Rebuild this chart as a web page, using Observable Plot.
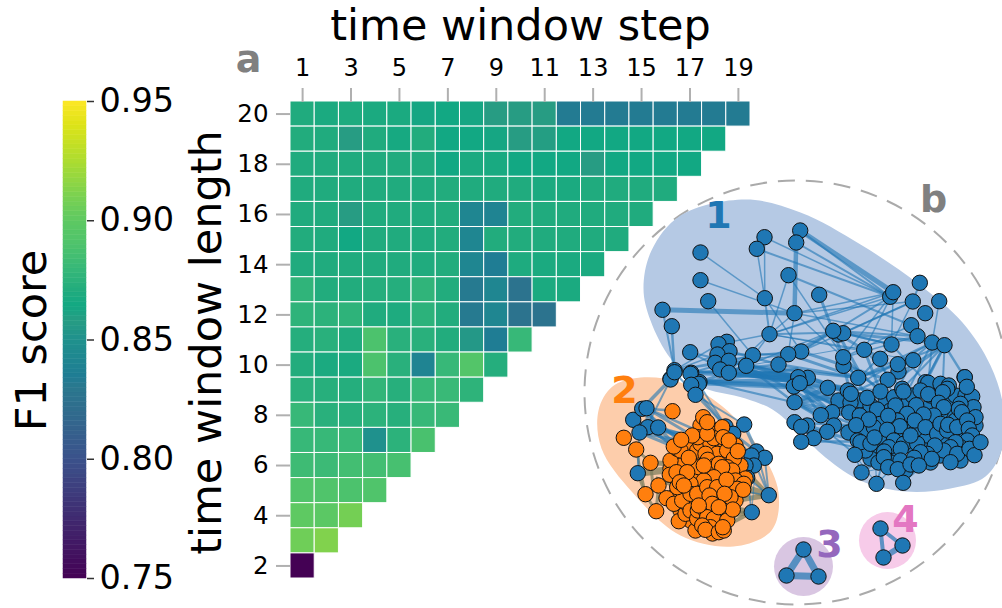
<!DOCTYPE html>
<html><head><meta charset="utf-8">
<script src="https://cdn.jsdelivr.net/npm/d3@7"></script>
<script src="https://cdn.jsdelivr.net/npm/@observablehq/plot@0.6"></script>
<style>
html,body{margin:0;padding:0;background:#fff}
#c{position:relative;width:1002px;height:608px;overflow:hidden}
#c svg{position:absolute;left:0;top:0;background:transparent}
</style></head><body><div id="c"></div>
<script>
const steps=[1,2,3,4,5,6,7,8,9,10,11,12,13,14,15,16,17,18,19];
const lengths=[20,19,18,17,16,15,14,13,12,11,10,9,8,7,6,5,4,3,2];
const stepTicks=[1,3,5,7,9,11,13,15,17,19];
const lengthTicks=[2,4,6,8,10,12,14,16,18,20];
const colorTicks=[0.75,0.8,0.85,0.9,0.95];
const f1Rows=[
[.870,.868,.869,.868,.868,.863,.864,.863,.858,.858,.858,.833,.833,.833,.833,.833,.833,.833,.833],
[.871,.870,.858,.870,.866,.871,.864,.864,.863,.858,.859,.864,.864,.864,.864,.864,.864,.864],
[.870,.870,.870,.870,.870,.870,.864,.868,.867,.864,.864,.864,.858,.864,.864,.864,.864],
[.870,.870,.870,.870,.870,.870,.871,.870,.870,.870,.868,.868,.870,.870,.870,.870],
[.870,.870,.858,.870,.870,.870,.871,.842,.840,.871,.870,.870,.870,.870,.870],
[.871,.870,.864,.870,.870,.870,.871,.842,.871,.871,.870,.870,.870,.870],
[.870,.870,.870,.870,.870,.870,.871,.842,.835,.869,.868,.868,.868],
[.877,.871,.871,.872,.872,.877,.871,.832,.842,.826,.868,.868],
[.876,.875,.876,.870,.869,.875,.871,.832,.842,.826,.826],
[.872,.874,.870,.889,.874,.874,.871,.855,.835,.880],
[.871,.868,.868,.889,.874,.840,.880,.893,.872],
[.874,.873,.872,.878,.873,.880,.881,.876],
[.880,.874,.873,.875,.873,.880,.881],
[.880,.880,.881,.850,.875,.888],
[.883,.882,.885,.885,.887],
[.892,.891,.889,.891],
[.900,.898,.908],
[.906,.912],
[.750]];
const cells=f1Rows.flatMap((r,i)=>r.map((v,j)=>({step:steps[j],length:lengths[i],f1:v})));

const blobBackNodes=[[860,400],[870,405],[885,402],[905,400],[912,395],[930,405],[950,400],[955,395],[965,395],[880,415],[905,425],[915,432],[925,440],[935,425],[950,415],[965,430],[975,425],[958,435],[945,440],[930,462],[940,455],[905,470],[895,455],[875,448],[865,432],[848,432],[838,400],[880,436],[895,433],[915,410],[930,395],[870,458],[960,460],[865,450],[890,410],[925,450],[910,445],[955,420],[940,412],[890,462],[878,462],[850,402]];
const blueNodes=[[799.7,230],[795.7,242],[764,236.7],[756.3,248.3],[700,252],[700,279.7],[788,274.7],[818.7,294.3],[764.3,297.7],[707.7,300.7],[662,309.3],[671.3,325.7],[794,312.7],[769,333.7],[919.3,282.3],[889.7,296.3],[892.7,291.7],[912.3,301],[938.7,300.7],[924.7,312.7],[910.7,324.7],[917,335.7],[931.7,342],[944,344.7],[838,334],[842.7,332.7],[832.7,330.3],[891,344],[863.7,349.3],[879.7,358.3],[912.7,359.7],[898,371],[897.3,363.7],[843,365.3],[842.7,356.7],[807.3,377.3],[797.7,376.7],[800.7,351],[787.7,353.7],[778,364],[752.3,354.7],[745.7,365.3],[689.7,351.7],[670,378.3],[674,369.7],[690.7,372.3],[726.3,341.3],[718,343.7],[729,350.7],[717,354],[714.7,362.3],[728.3,360.3],[719.7,369],[728.3,372.3],[857.7,377.3],[887.3,379.3],[964,376.7],[699,381.7],
[793.3,386],[799.3,382.7],[827.3,387.3],[794,401.7],[847.3,390],[850.3,393.3],[866.7,397.3],[880,391],[893.7,396.7],[901.7,388.3],[903,391],[895,405],[876.7,409],[925,381.7],[927.7,382.3],[940,383.3],[948.3,385],[946.7,388.3],[920,390],[927.7,393.7],[942.3,391.7],[915.7,404.7],[938.3,402.3],[971.7,396],[964.3,376.7],[966.3,386.3],[973,406.7],[960,403.3],[958.3,408.3],[961.3,411.7],[975,416.7],[943.3,406.7],[933.3,415],[923,414],[906.7,413.3],[914.3,420],[896.7,420],[880,423.3],[873.3,426.7],[848.7,412],[859.3,415],[868.3,419],[855.7,424.7],[887.7,415.3],[899.3,425.7],[886.7,429.3],[806.7,425],[794,421.7],[800.7,426.3],[831.7,411.7],[820.3,414.7],[833.3,425],[826.7,431.3],[813.3,437.7],[800.7,441.3],[857.3,440],[860,441.7],[870,443.3],[874,437],[893.3,440],[888.3,446.7],[903.3,443.3],[916.7,443.3],[910,435],[925,426.7],[936.7,433.3],[940,423.3],[946.7,430],[947.7,424.3],[956.7,426.7],[966.7,420],[968.3,428.3],[971.7,435],[966.7,440],[960,446.7],[955,441.7],[950,446.7],[943.3,450],[934.3,445],[926.7,453.3],[920,451.7],[900.3,448.3],[883.7,451],[883.3,456.7],[854.3,454.3],[900,460],[913.7,457.3],[931.3,458.3],[956.7,453.3],[950,461.7],[969,448.3],[974,454.7],[980,441.7],[887.7,466.7],[897.3,468.7],[910,464],[918.3,465],[861,472],[876,483.3],[902.7,482.3],
[670,379],[674,371.7],[690,373.3],[698.3,383.3],[690.7,384.3],[695,394.3],[632.7,419.3],[641.7,408.3],[646,407.7],[647.3,426.7],[657.7,427],[639,432],[637.3,472.7],[743.7,424],[725,426],[732.7,433.3],[756,451],[764.3,457.3],[751,455],[753.3,465],[745,465],[746.7,477.3],[768.3,494.7],[751.3,511.7]];
const triad3=[[803,549],[786,575],[818,576]];
const triad4=[[880,528],[902,545],[883,557]];
const orangeBackNodes=[[690,440],[700,425],[715,430],[735,445],[740,465],[695,475],[710,470],[720,475],[700,490],[715,495],[725,500],[685,495],[675,495],[680,465],[670,468],[690,520],[725,510],[735,500],[745,478],[712,510],[705,500],[720,520],[695,490],[680,510],[715,445],[725,458],[700,458],[690,448],[695,530],[712,533]];
const orangeNodes=[[672,410.7],[623.3,437.3],[635.7,449],[650,462.3],[645,493.7],[655.7,510.7],[666,497.7],[658,485],[678.3,520.7],[673.3,503.3],[685,513.3],[686.7,503.3],[681.7,500],[690,510],[696.7,518.3],[670,460],[676.7,448.3],[680,450],[693.3,460],[696.7,450],[700,443.3],[710,443.3],[716.7,453.3],[705,453.3],[726.7,450],[733.3,458.3],[726.7,466.7],[731.7,470],[698.3,466.7],[707.3,459.3],[715,465],[718.3,463.3],[721.7,466.7],[713.3,476.7],[703.3,480],[690,483.3],[690,493.3],[696.7,493.3],[706.7,486.7],[716.7,486.7],[735,480],[743.3,483.3],[736.7,488.3],[742.7,489.3],[730,496.7],[709,495],[697.3,510],[705,510],[711.7,503.3],[706.7,516.7],[713.3,518.3],[710,526.7],[701.7,525],[705,529.3],[718.3,531.7],[723.3,530],[726.7,520],[732.3,509],[702.7,416.7],[721.7,426.7],[697.3,436.7],[691.7,435],[713.3,437.7],[722.7,436.7],[728.3,440],[706.7,433.3],[706.7,421.7],[673.3,446],[680.7,439.3],[737.3,450.7],[688.3,457.3],[703.3,465],[669.3,474.3],[676,471.7],[686.7,471.7],[676.7,486.7],[679.3,481.7],[683.3,485],[726,479.3],[724,493.3],[698.3,505],[718.3,506.7],[722.3,526.7]];

const blueLinks=[
[799.7,230,892.7,291.7,5],[795.7,242,889.7,296.3,2],[795.7,242,794,312.7,4.5],[799.7,230,889.7,296.3,2],[764,236.7,889.7,296.3,1.5],[756.3,248.3,889.7,296.3,2],[756.3,248.3,764.3,297.7,1.5],[764,236.7,764.3,297.7,1.5],[700,252,764.3,297.7,1.5],[700,279.7,794,312.7,1.5],[707.7,300.7,752.3,354.7,1.5],[662,309.3,794,312.7,5],[662,309.3,674,369.7,2],[671.3,325.7,674,369.7,2.5],[788,274.7,769,333.7,1.5],[788,274.7,910.7,324.7,2],[788,274.7,843,357,1.5],[818.7,294.3,842.7,356.7,3],[764.3,297.7,769,333.7,2],[764.3,297.7,800.7,351,1.5],[794,312.7,769,333.7,1.5],[794,312.7,892.7,291.7,1.5],[794,312.7,917,335.7,1.5],[794,312.7,787.7,353.7,1.5],[794,312.7,842.7,356.7,1.5],[794,312.7,912.3,301,1.5],[769,333.7,892.7,291.7,1.5],[769,333.7,836,332,2],[769,333.7,718,343.7,1.5],[769,333.7,745.7,365.3,1.5],[769,333.7,863.7,349.3,1.5],[769,333.7,728,372,1.5],[769,333.7,912.7,359.7,1],[919.3,282.3,912.3,301,2],[938.7,300.7,931.7,342,1.5],[892.7,291.7,863.7,349.3,1.5],[892.7,291.7,891,344,1.5],[892.7,291.7,842.7,356.7,1.5],[912.3,301,891,344,1.5],[912.3,301,842.7,332.7,2],[912.3,301,800.7,351,1.5],[889.7,296.3,800.7,351,2],[889.7,296.3,769,333.7,1.5],[832.7,330.3,917,335.7,2],[842.7,332.7,931.7,342,3],[832.7,330.3,891,344,2],[842.7,332.7,891,344,2],[838,334,879.7,358.3,3],[838,334,863.7,380,3],[832.7,330.3,787.7,354,2],[832.7,330.3,778,364,2],[832.7,330.3,745.7,365.3,1.5],[917,335.7,843,357,1.5],[917,335.7,745.7,365.3,1],[910.7,324.7,843,357,1.5],[944,344.7,964,376.7,2.5],[944,344.7,857.7,377.3,2],[944,344.7,880,391,2],[944,344.7,901.7,388.3,2],[944,344.7,925,381.7,3],[944,344.7,920,390,2],[944,344.7,887,379,2],[931.7,342,857.7,377.3,2],[931.7,342,887.3,379.3,2],[931.7,342,927.7,382.3,2],[931.7,342,847,390,2],[931.7,342,905,395,2],[944,344.7,942,391,2],[891,344,847,390,2],[891,344,925,381,2],[863.7,349.3,901.7,388,2],[863.7,349.3,880,391,3],[842.7,356.7,880,391,3],[842.7,356.7,866.7,397,3],[843,365.3,850,393,3],[843,365.3,893,396,2],[912.7,359.7,857.7,377,2],[912.7,359.7,893,396,2],[898,371,850,393,2],[879.7,358.3,893,397,2],
[674,369.7,797.7,376.7,3],[690.7,372.3,800,378,4],[699,381.7,800,379,4],[699,381.7,798,368,3],[728.3,372.3,807,377,7],[719.7,369,798,376,5],[745,372,800,380,7],[728.3,360.3,800,378,4],[729,350.7,778,364,2.5],[717,354,787,354,2],[745.7,365.3,807,377,3.5],[745.7,365.3,857,377,3],[752.3,354.7,800.7,351,2],[778,364,857.7,377.3,3],[787.7,353.7,857.7,377.3,3],[800.7,351,887.3,379.3,3],[728,372,847,390,3],[730,372,880,391,3],[699,381.7,827,387,3.5],[699,381.7,794,386,6],[807,377,866.7,397.3,3],[807,377,847,390,4],[827,387,887.7,400,3],[745,365,794,402,2.5],[745,365,830,410,2.5],[700,380,794,402,2],[689.7,351.7,745.7,365.3,2],[689.7,351.7,728,372,2],[674,369.7,718,344,1.5],[674,369.7,717,354,1.5],[674,369.7,752,355,1.5],[674,369.7,787.7,353.7,1.5],[690.7,372.3,752.3,354.7,2],[690,373,778,364,2.5],[699,381.7,745.7,365.3,3],
[799,383,850,412,6],[794,402,850,393,5],[827,387,794,402,5],[794,386,860,415,3],[794,386,850,412,3],[794,401.7,856,425,2.5],[794,401.7,849,412,3],[794,422,855,425,2.5],[794,422,849,412,3],[800,426,860,441,3],[801,441,860,441,2.5],[801,441,856,425,2.5],[813,438,868,419,2.5],[813,438,880,452,2],[827,431,855,454,2],[827,387,850,412,3],[832,412,880,423,3],[833,425,887,430,2.5],[794,402,820,415,3],[794,402,833,425,3],[806,425,827,431,3],[799,383,831,412,3],[799,383,820,415,3],
[861,472,874,437,1.5],[861,472,884,451,1.5],[861,472,900,448,1.5],[861,472,854,454,1.5],[876,483.3,874,437,1.2],[876,483.3,884,451,1.2],[876,483.3,888,447,1.2],[876,483.3,900,460,1.2],[902.7,482.3,900,448,1.2],[902.7,482.3,925,460,1.2],[902.7,482.3,940,450,1.2],[902.7,482.3,885,455,1.2],[854,454,876,483,1.2],[861,472,890,466,1.2],
[670,379,641.7,408.3,3.5],[670,379,647,425,2],[674,372,695,394,2],[690.7,384.3,737,440,3],[695,394.3,743.7,424,2],[695,394.3,725,426,2],[698,383,730,433,2],[641.7,408.3,690,450,3],[641.7,408.3,676,447,3.5],[646,407.7,700,440,3],[646,407.7,710,436,2.5],[632.7,419.3,690,440,3],[632.7,419.3,676,447,3],[647,427,697,436,3],[647,427,676,447,3],[658,427,690,436,3],[658,427,700,445,3],[639,432,680,440,3],[639,432,673,446,3],[639,432,637.3,472.7,2.5],[641.7,408.3,632.7,419.3,3],[646,408,658,427,3],[646,408,647,427,3],[632.7,419.3,639,432,3],[658,427,639,432,3],[641,408,672,410,2.5],[743.7,424,756,451,3.5],[725,426,751,455,2.5],[732.7,433.3,756,451,3],[756,451,768.3,494.7,2],[764.3,457.3,768.3,494.7,2],[751,455,768.3,494.7,2],[746.7,477.3,768.3,494.7,2],[746.7,477.3,751.3,511.7,2],[756,451,751.3,511.7,1],[745,465,730,500,1.5],[753,465,738,505,1.5],[768,495,740,490,1.5]];
const orangeLinks=[
[650,462,637,473,3],[650,462,653,490,3],[635.7,449,650,462,3],[635.7,449,645,494,2.5],[623.3,437,635.7,449,2.5],[645,494,655.7,511,3],[658,485,655.7,511,3],[637,473,645,494,2.5],[645,494,668,480,3],
[637.3,472.7,680,468,7],[650,462,690,465,5],[655,478,690,490,5],[670,485,730,470,7],
[730,483,768.3,494.7,7],[735,500,768.3,494.7,5],[730,508,751.3,511.7,6],[728,515,751.3,511.7,5],[720,528,751.3,511.7,4],[745,470,768.3,494.7,4],[735,455,753,465,4],[735,478,756,451,3],[690,520,735,515,6],[670,505,720,528,5],[690,525,730,522,5]];
const triadLinks=[
[803,549,786,575,7],[803,549,818,576,7],[786,575,818,576,7],
[880,528,902,545,4],[880,528,883,557,4],[883,557,902,545,6]];

const blueHull=[[745,199],[800,212],[860,244],[920,285],[962,322],[990,365],[1003,408],[1001,450],[985,476],[950,488],[905,491],[862,481],[825,457],[797,430],[772,409],[745,398],[698,385],[670,358],[650,320],[643,288],[651,250],[680,215]];
const orangeHull=[[640,377],[680,382],[722,406],[758,447],[778,492],[771,530],[733,546],[680,535],[632,492],[601,448],[598,410],[612,386]];
const bubble3=[[803,566]];
const bubble4=[[887,540]];
const ring=[[796,392]];
const colorStops=[.75,.80,.83,.835,.85,.858,.864,.87,.88,.89,.90,.91,.925,.94,.95];
const colorRange=["#440154","#3b528b","#2a788e","#1f7d94","#1f918d","#279c83","#12a883","#20ab7e","#37b878","#4ec36c","#5ec962","#7ad151","#addc30","#dde318","#fde725"];
const texts=[
{x:520,y:26,t:"time window step",s:43,c:"#000",w:"normal",r:0},
{x:207,y:342,t:"time window length",s:43,c:"#000",w:"normal",r:-90},
{x:32,y:340,t:"F1 score",s:43,c:"#000",w:"normal",r:-90},
{x:248,y:59,t:"a",s:38,c:"#808080",w:"bold",r:0},
{x:933,y:199,t:"b",s:38,c:"#808080",w:"bold",r:0},
{x:718,y:215,t:"1",s:38,c:"#1f77b4",w:"bold",r:0},
{x:624,y:390,t:"2",s:38,c:"#ff7f0e",w:"bold",r:0},
{x:829,y:544,t:"3",s:38,c:"#9467bd",w:"bold",r:0},
{x:905,y:519,t:"4",s:38,c:"#e377c2",w:"bold",r:0}];

const font={fontFamily:"'DejaVu Sans',sans-serif",background:"transparent"};
const colorScale={type:"linear",domain:colorStops,range:colorRange};
const linkOpts=(c,o)=>({x1:d=>d[0],y1:d=>d[1],x2:d=>d[2],y2:d=>d[3],strokeWidth:d=>d[4],stroke:c,strokeOpacity:o});
const dotOpts=(c)=>({x:d=>d[0],y:d=>d[1],r:7.7,fill:c,stroke:"#111",strokeWidth:1});
const areaOpts=(c,r)=>({x:d=>d[0],y:d=>d[1],r,fill:c});

const network=Plot.plot({width:1002,height:608,margin:0,style:font,
 x:{domain:[0,1002],range:[0,1002],axis:null},
 y:{domain:[0,608],range:[0,608],axis:null},
 marks:[
  Plot.dot(ring,{x:d=>d[0],y:d=>d[1],r:212,fill:"none",stroke:"#aaaaaa",strokeWidth:2,strokeDasharray:"17,11"}),
  Plot.line(blueHull,{x:d=>d[0],y:d=>d[1],fill:"#b5c9e4",stroke:"none",curve:"catmull-rom-closed"}),
  Plot.line(orangeHull,{x:d=>d[0],y:d=>d[1],fill:"#fdcdab",stroke:"none",curve:"catmull-rom-closed"}),
  Plot.dot(bubble3,areaOpts("#d9c6e2",29.5)),
  Plot.dot(bubble4,areaOpts("#f7cbe9",28.5)),
  Plot.link(orangeLinks,linkOpts("#7f7f5f",0.75)),
  Plot.link(blueLinks,linkOpts("#1f77b4",0.6)),
  Plot.link(triadLinks,linkOpts("#1f77b4",0.7)),
  Plot.dot(blobBackNodes,dotOpts("#1f77b4")),
  Plot.dot(blueNodes,dotOpts("#1f77b4")),
  Plot.dot(triad3,dotOpts("#1f77b4")),
  Plot.dot(triad4,dotOpts("#1f77b4")),
  Plot.dot(orangeBackNodes,dotOpts("#ff7f0e")),
  Plot.dot(orangeNodes,dotOpts("#ff7f0e")),
  ...texts.map(d=>Plot.text([d],{x:"x",y:"y",text:"t",fontSize:d.s,fill:"c",fontWeight:d.w,rotate:d.r}))
 ]});

const heat=Plot.plot({width:1002,height:608,marginLeft:290,marginRight:252,marginTop:101,marginBottom:30,style:font,
 x:{type:"band",domain:steps,padding:0,round:false,axis:null},
 y:{type:"band",domain:lengths,padding:0,round:false,axis:null},
 color:colorScale,
 marks:[
  Plot.cell(cells,{x:"step",y:"length",fill:"f1",stroke:"#fff",strokeWidth:1}),
  Plot.axisX({anchor:"top",ticks:stepTicks,tickSize:14,tickPadding:12,stroke:"#b0b0b0",strokeWidth:2,fill:"#000",fontSize:24,label:null}),
  Plot.axisY({anchor:"left",ticks:lengthTicks,tickSize:14,tickPadding:8,stroke:"#b0b0b0",strokeWidth:2,fill:"#000",fontSize:24.5,label:null})
 ]});

const levels=d3.ticks(0.75,0.95,100);
const bins=levels.slice(0,-1).map((v,i)=>({lo:v,hi:levels[i+1]}));
const bar=Plot.plot({width:1002,height:608,marginLeft:63,marginRight:916,marginTop:101,marginBottom:30,style:font,
 x:{domain:[0,1],axis:null},
 y:{domain:[0.75,0.95],axis:null},
 color:colorScale,
 marks:[
  Plot.rect(bins,{x1:0,x2:1,y1:"lo",y2:"hi",fill:d=>(d.lo+d.hi)/2,stroke:d=>(d.lo+d.hi)/2,strokeWidth:0.5}),
  Plot.axisY({anchor:"right",ticks:colorTicks,tickFormat:".2f",tickSize:7,tickPadding:6,stroke:"#333",strokeWidth:1.5,fill:"#000",fontSize:33.5,label:null})
 ]});

document.getElementById("c").append(network,bar,heat);
</script></body></html>
